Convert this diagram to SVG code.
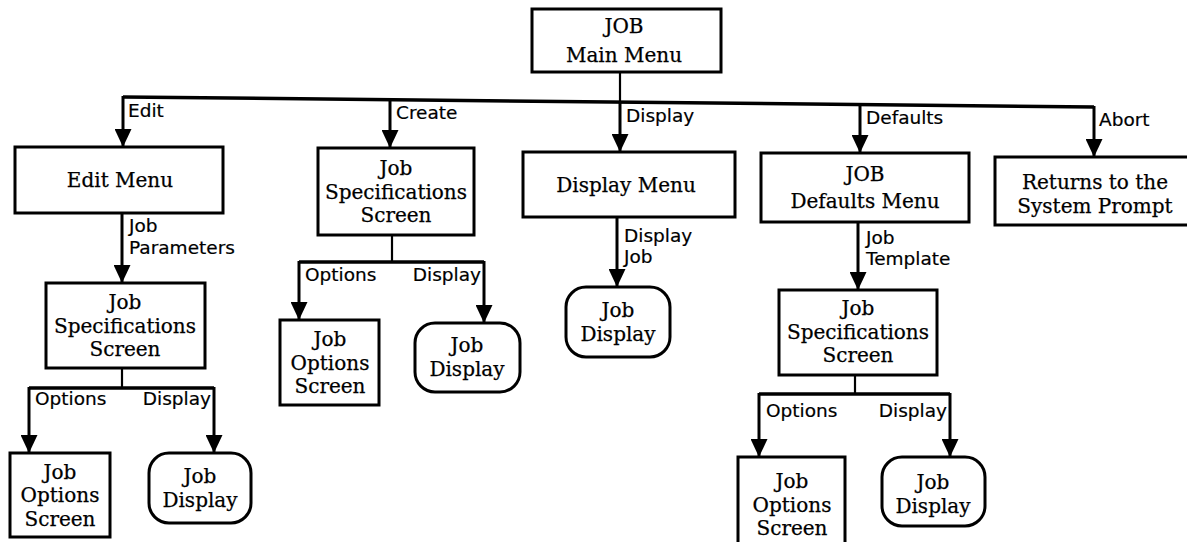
<svg xmlns="http://www.w3.org/2000/svg" width="1187" height="542" viewBox="0 0 1187 542">
  <style>
    .box { fill: #fff; stroke: #000; stroke-width: 3; }
    .t { font-family: "DejaVu Serif", "Liberation Serif", serif; font-size: 20px; text-anchor: middle; fill: #000; stroke: #000; stroke-width: 0.25; }
    .l { font-family: "DejaVu Sans", "Liberation Sans", sans-serif; font-size: 18.5px; fill: #000; stroke: #000; stroke-width: 0.2; }
    .le { text-anchor: end; }
    .w { fill: none; stroke: #000; stroke-width: 3.5; }
    .s { fill: none; stroke: #000; stroke-width: 2.2; }
    .a { fill: none; stroke: #000; stroke-width: 3; marker-end: url(#tip); }
  </style>
  <defs>
    <marker id="tip" markerUnits="userSpaceOnUse" markerWidth="18" markerHeight="19" refX="8.5" refY="18" orient="0">
      <path d="M0,0 L17,0 L8.5,18 Z" fill="#000"/>
    </marker>
  </defs>
  <rect width="1187" height="542" fill="#fff"/>

  <!-- connectors -->
  <g id="connectors">
    <!-- main menu to option bus -->
    <line class="s" x1="620" y1="72" x2="620" y2="102"/>
    <path class="w" d="M123,97 L1094,107"/>
    <line class="a" x1="123" y1="96" x2="123" y2="147"/>
    <line class="a" x1="390" y1="99" x2="390" y2="148"/>
    <line class="a" x1="620" y1="101" x2="620" y2="152"/>
    <line class="a" x1="860" y1="104" x2="860" y2="153"/>
    <line class="a" x1="1094" y1="106" x2="1094" y2="157"/>
    <text class="l" x="128" y="117">Edit</text>
    <text class="l" x="396" y="119">Create</text>
    <text class="l" x="626" y="122">Display</text>
    <text class="l" x="866" y="124">Defaults</text>
    <text class="l" x="1099" y="126">Abort</text>

    <!-- edit branch -->
    <line class="a" x1="122" y1="213" x2="122" y2="283"/>
    <text class="l" x="129" y="232">Job</text>
    <text class="l" x="129" y="254">Parameters</text>
    <line class="s" x1="122" y1="368" x2="122" y2="388"/>
    <path class="w" d="M29,388 H214"/>
    <line class="a" x1="29" y1="387" x2="29" y2="453"/>
    <line class="a" x1="214" y1="387" x2="214" y2="453"/>
    <text class="l" x="35" y="405">Options</text>
    <text class="l le" x="211" y="405">Display</text>

    <!-- create branch -->
    <line class="s" x1="392" y1="235" x2="392" y2="262"/>
    <path class="w" d="M299,262 H484"/>
    <line class="a" x1="299" y1="261" x2="299" y2="320"/>
    <line class="a" x1="484" y1="261" x2="484" y2="323"/>
    <text class="l" x="305" y="281">Options</text>
    <text class="l le" x="481" y="281">Display</text>

    <!-- display branch -->
    <line class="a" x1="617" y1="217" x2="617" y2="287"/>
    <text class="l" x="624" y="242">Display</text>
    <text class="l" x="624" y="263">Job</text>

    <!-- defaults branch -->
    <line class="a" x1="858" y1="222" x2="858" y2="290"/>
    <text class="l" x="866" y="244">Job</text>
    <text class="l" x="866" y="265">Template</text>
    <line class="s" x1="855" y1="375" x2="855" y2="394"/>
    <path class="w" d="M759,394 H950"/>
    <line class="a" x1="759" y1="393" x2="759" y2="457"/>
    <line class="a" x1="950" y1="393" x2="950" y2="457"/>
    <text class="l" x="766" y="417">Options</text>
    <text class="l le" x="947" y="417">Display</text>
  </g>

  <!-- top level -->
  <g id="main-menu">
    <rect class="box" x="532" y="9" width="189" height="63"/>
    <text class="t" x="624" y="33">JOB</text>
    <text class="t" x="624" y="62">Main Menu</text>
  </g>

  <!-- second level -->
  <g id="edit-menu">
    <rect class="box" x="15" y="147" width="208" height="66"/>
    <text class="t" x="120" y="187">Edit Menu</text>
  </g>
  <g id="create-spec">
    <rect class="box" x="318" y="148" width="156" height="87"/>
    <text class="t" x="396" y="175">Job</text>
    <text class="t" x="396" y="198.5">Specifications</text>
    <text class="t" x="396" y="222">Screen</text>
  </g>
  <g id="display-menu">
    <rect class="box" x="523" y="152" width="212" height="65"/>
    <text class="t" x="626" y="192">Display Menu</text>
  </g>
  <g id="defaults-menu">
    <rect class="box" x="761" y="153" width="208" height="69"/>
    <text class="t" x="865" y="181">JOB</text>
    <text class="t" x="865" y="208">Defaults Menu</text>
  </g>
  <g id="abort">
    <rect class="box" x="995" y="157" width="197" height="68"/>
    <text class="t" x="1095" y="189">Returns to the</text>
    <text class="t" x="1095" y="213">System Prompt</text>
  </g>

  <!-- edit branch children -->
  <g id="edit-spec">
    <rect class="box" x="46" y="283" width="159" height="85"/>
    <text class="t" x="125" y="309">Job</text>
    <text class="t" x="125" y="332.5">Specifications</text>
    <text class="t" x="125" y="356">Screen</text>
  </g>
  <g id="edit-options">
    <rect class="box" x="10" y="453" width="100" height="84"/>
    <text class="t" x="60" y="478.5">Job</text>
    <text class="t" x="60" y="502">Options</text>
    <text class="t" x="60" y="525.5">Screen</text>
  </g>
  <g id="edit-display">
    <rect class="box" x="149" y="453" width="102" height="70" rx="20"/>
    <text class="t" x="200" y="483">Job</text>
    <text class="t" x="200" y="507">Display</text>
  </g>

  <!-- create branch children -->
  <g id="create-options">
    <rect class="box" x="280" y="320" width="99" height="85"/>
    <text class="t" x="330" y="346">Job</text>
    <text class="t" x="330" y="369.5">Options</text>
    <text class="t" x="330" y="393">Screen</text>
  </g>
  <g id="create-display">
    <rect class="box" x="415" y="323" width="105" height="69" rx="20"/>
    <text class="t" x="467" y="352">Job</text>
    <text class="t" x="467" y="376">Display</text>
  </g>

  <!-- display branch child -->
  <g id="display-job">
    <rect class="box" x="566" y="287" width="104" height="70" rx="20"/>
    <text class="t" x="618" y="317">Job</text>
    <text class="t" x="618" y="341">Display</text>
  </g>

  <!-- defaults branch children -->
  <g id="defaults-spec">
    <rect class="box" x="779" y="290" width="158" height="85"/>
    <text class="t" x="858" y="315">Job</text>
    <text class="t" x="858" y="338.5">Specifications</text>
    <text class="t" x="858" y="362">Screen</text>
  </g>
  <g id="defaults-options">
    <rect class="box" x="738" y="457" width="107" height="92"/>
    <text class="t" x="792" y="488">Job</text>
    <text class="t" x="792" y="511.5">Options</text>
    <text class="t" x="792" y="535">Screen</text>
  </g>
  <g id="defaults-display">
    <rect class="box" x="882" y="457" width="103" height="69" rx="20"/>
    <text class="t" x="933" y="489">Job</text>
    <text class="t" x="933" y="513">Display</text>
  </g>
</svg>
